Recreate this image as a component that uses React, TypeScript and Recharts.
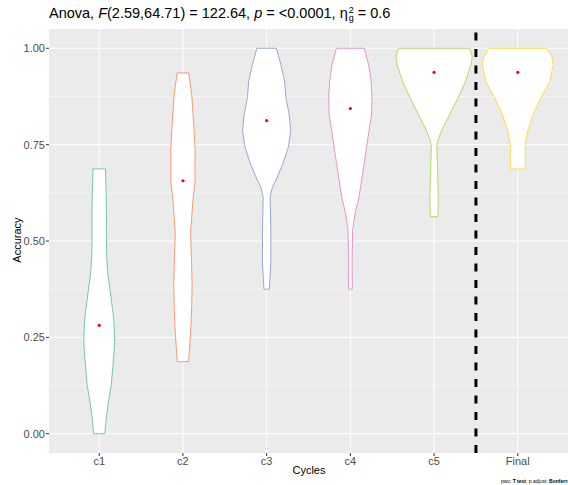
import { CartesianGrid, ReferenceLine, Scatter, ScatterChart, XAxis, YAxis } from 'recharts'

const categories = ['c1', 'c2', 'c3', 'c4', 'c5', 'Final']
const means = [0.28125, 0.65625, 0.8125, 0.84375, 0.9375, 0.9375]
const colors = ['#66C2A5', '#FC8D62', '#8DA0CB', '#E78AC3', '#A6D854', '#FFD92F']

// violin profiles: accuracy levels (bottom to top) and the density half-width at each
const c1Levels = [0, 0.05, 0.09, 0.125, 0.176, 0.236, 0.28, 0.305, 0.34, 0.374, 0.42, 0.46, 0.52, 0.563, 0.62, 0.687]
const c1Widths = [5.5, 7.5, 9.7, 12, 13.8, 15.5, 15, 14.2, 12.5, 10.8, 8.5, 7.5, 7.2, 7.3, 7, 6.3]
const c2Levels = [0.187, 0.262, 0.33, 0.39, 0.45, 0.52, 0.606, 0.657, 0.69, 0.735, 0.795, 0.88, 0.936]
const c2Widths = [5.7, 7.7, 8.8, 9.2, 8.6, 7.7, 10, 12.3, 12, 12.3, 11, 8.8, 5.8]
const c3Levels = [0.375, 0.443, 0.528, 0.614, 0.64, 0.657, 0.7, 0.743, 0.786, 0.829, 0.872, 0.915, 0.958, 1]
const c3Widths = [2.7, 4.2, 4.2, 3.5, 5.8, 9.2, 16.2, 21.7, 24.2, 22.5, 19.3, 18, 14.2, 9.8]
const c4Levels = [0.375, 0.443, 0.528, 0.571, 0.614, 0.7, 0.786, 0.829, 0.872, 0.915, 0.958, 1]
const c4Widths = [2, 1.7, 2.3, 4.7, 8.7, 13.8, 18.7, 21.3, 21.7, 20.8, 18.3, 14]
const c5Levels = [0.563, 0.614, 0.7, 0.743, 0.757, 0.786, 0.829, 0.872, 0.915, 0.958, 0.979, 1]
const c5Widths = [3.8, 4.2, 3.3, 2.8, 3.3, 7.5, 15.8, 24.2, 31.7, 37.2, 38.3, 35.5]
const finalLevels = [0.687, 0.743, 0.75, 0.765, 0.786, 0.829, 0.872, 0.915, 0.958, 0.979, 1]
const finalWidths = [7.5, 7.5, 7.5, 8.5, 10, 15.5, 23.3, 32.2, 35.7, 34, 28.7]

const yTicks = [0, 0.25, 0.5, 0.75, 1]
const yMinor = [0.125, 0.375, 0.625, 0.875]
const xTicks = [1, 2, 3, 4, 5, 6]

const levels = [c1Levels, c2Levels, c3Levels, c4Levels, c5Levels, finalLevels]
const widths = [c1Widths, c2Widths, c3Widths, c4Widths, c5Widths, finalWidths]
const WIDTH_SCALE = 1 / 84

if (typeof document !== 'undefined') document.body.style.margin = '0'

function outline(i: number) {
  const center = i + 1
  const left = levels[i].map((y, j) => ({ x: center - widths[i][j] * WIDTH_SCALE, y }))
  const right = levels[i].map((y, j) => ({ x: center + widths[i][j] * WIDTH_SCALE, y })).reverse()
  return [...left, ...right, left[0]]
}

const meanPoints = means.map((y, i) => ({ x: i + 1, y }))

const NoDot = () => <g />
const RedDot = (props: any) => <circle cx={props.cx} cy={props.cy} r={1.6} fill='#FF0000' />

const font = '"Liberation Sans", Arial, sans-serif'

export default function App() {
  return (
    <div style={{ position: 'relative', width: 568, height: 485, fontFamily: font, overflow: 'hidden' }}>
      <div style={{ position: 'absolute', left: 49, top: 5, fontSize: 14.5, lineHeight: '16px', whiteSpace: 'nowrap', color: '#000' }}>
        Anova, <i>F</i>(2.59,64.71) = 122.64, <i>p</i> = &lt;0.0001, η
        <span style={{ display: 'inline-flex', flexDirection: 'column', fontSize: 9, lineHeight: '8px', verticalAlign: 'middle', marginLeft: 1 }}>
          <span>2</span>
          <span>g</span>
        </span>{' '}
        = 0.6
      </div>
      <ScatterChart width={568} height={485} margin={{ top: 29, right: 0, bottom: 0, left: 0 }}>
        <CartesianGrid
          fill='#EBEBEB'
          stroke='#FFFFFF'
          strokeWidth={0.5}
          vertical={false}
          horizontalValues={yMinor}
        />
        <CartesianGrid
          stroke='#FFFFFF'
          strokeWidth={1}
          horizontalValues={yTicks}
          verticalValues={xTicks}
        />
        <XAxis
          type='number'
          dataKey='x'
          domain={[0.4, 6.6]}
          allowDataOverflow
          ticks={xTicks}
          tickFormatter={(v) => categories[v - 1]}
          height={32}
          axisLine={false}
          tickLine={{ stroke: '#333333' }}
          tickSize={3}
          tickMargin={1}
          tick={{ fill: '#4D4D4D', fontSize: 11 }}
        />
        <YAxis
          type='number'
          dataKey='y'
          domain={[-0.05, 1.05]}
          allowDataOverflow
          ticks={yTicks}
          tickFormatter={(v) => v.toFixed(2)}
          width={49}
          axisLine={false}
          tickLine={{ stroke: '#333333' }}
          tickSize={3}
          tickMargin={1}
          tick={{ fill: '#4D4D4D', fontSize: 11 }}
        />
        {categories.map((c, i) => (
          <Scatter
            key={c}
            data={outline(i)}
            line={{ stroke: colors[i], strokeWidth: 0.9, fill: '#FFFFFF' }}
            lineType='joint'
            lineJointType='linear'
            shape={NoDot}
            isAnimationActive={false}
          />
        ))}
        <Scatter data={meanPoints} shape={RedDot} isAnimationActive={false} />
        <ReferenceLine x={5.5} stroke='#000000' strokeWidth={3} strokeDasharray='8 8.5' />
      </ScatterChart>
      <div style={{ position: 'absolute', left: 0, top: 0, width: 34, height: 0, transform: 'translate(0px, 240px) rotate(-90deg)', transformOrigin: '17px 0' }}>
        <div style={{ position: 'absolute', left: -40, width: 114, top: -7, textAlign: 'center', fontSize: 11, fontFamily: '"Liberation Sans Narrow", ' + font, lineHeight: '14px' }}>
          Accuracy
        </div>
      </div>
      <div style={{ position: 'absolute', left: 259, width: 100, top: 463, textAlign: 'center', fontSize: 11, lineHeight: '14px' }}>
        Cycles
      </div>
      <div style={{ position: 'absolute', left: 501, top: 478, fontSize: 5, lineHeight: '6px', whiteSpace: 'nowrap', color: '#000' }}>
        pwc: <b>T test</b>; p.adjust: <b>Bonferroni</b>
      </div>
    </div>
  )
}
